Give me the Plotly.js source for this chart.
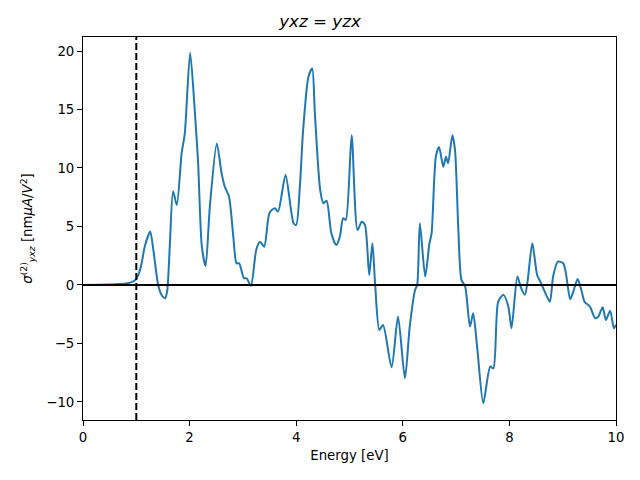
<!DOCTYPE html>
<html>
<head>
<meta charset="utf-8">
<script src="https://cdn.plot.ly/plotly-3.0.1.min.js"></script>
<style>html,body{margin:0;padding:0;background:#fff;}#chart{width:640px;height:480px;}</style>
</head>
<body>
<div id="chart"></div>
<script>
const energy = [0, 0.3, 0.6, 0.8, 0.9, 0.99, 1.05, 1.10, 1.16, 1.26, 1.32, 1.41, 1.48, 1.54, 1.58, 1.63, 1.69, 1.76, 1.85, 1.91, 2.01, 2.10, 2.16, 2.23, 2.30, 2.38, 2.51, 2.60, 2.66, 2.74, 2.82, 2.88, 2.93, 3.02, 3.07, 3.15, 3.25, 3.32, 3.40, 3.50, 3.60, 3.66, 3.80, 3.95, 4.00, 4.07, 4.13, 4.23, 4.30, 4.35, 4.45, 4.51, 4.57, 4.66, 4.75, 4.82, 4.88, 4.93, 5.04, 5.15, 5.23, 5.29, 5.37, 5.43, 5.48, 5.56, 5.63, 5.79, 5.91, 6.04, 6.13, 6.23, 6.27, 6.32, 6.42, 6.50, 6.54, 6.62, 6.68, 6.76, 6.81, 6.85, 6.93, 6.98, 7.04, 7.10, 7.17, 7.26, 7.32, 7.40, 7.51, 7.64, 7.70, 7.79, 7.89, 7.98, 8.04, 8.15, 8.22, 8.29, 8.34, 8.43, 8.52, 8.58, 8.69, 8.76, 8.82, 8.91, 9.01, 9.06, 9.14, 9.20, 9.28, 9.35, 9.41, 9.51, 9.61, 9.67, 9.75, 9.81, 9.89, 9.96, 10.0];
const sigma = [0, 0.02, 0.06, 0.12, 0.22, 0.45, 1.0, 1.85, 3.3, 4.56, 3.0, 0.0, -0.9, -1.14, -0.5, 3.5, 8.0, 6.84, 11.25, 12.96, 19.86, 14.7, 10.4, 3.27, 1.62, 6.7, 12.1, 9.55, 8.4, 7.55, 4.13, 1.85, 1.85, 0.57, 0.57, -0.08, 3.0, 3.7, 3.27, 6.18, 6.55, 6.27, 9.4, 5.27, 5.13, 8.5, 13.25, 17.8, 18.5, 14.7, 8.1, 6.98, 7.2, 4.4, 3.42, 4.13, 5.7, 5.56, 12.8, 4.7, 5.4, 5.13, 0.85, 3.56, 0.14, -3.85, -3.42, -7.04, -2.7, -7.98, -3.56, -0.43, 0.0, 5.27, 0.71, 3.56, 4.4, 10.97, 11.8, 10.1, 10.97, 10.4, 12.8, 11.5, 4.98, 0.43, -0.14, -3.56, -2.42, -5.56, -10.1, -6.98, -7.13, -1.43, -0.85, -1.85, -3.7, 0.71, -0.28, -0.85, 0.28, 3.56, 0.85, 0.28, -0.85, -1.43, 0.71, 1.99, 1.85, 1.0, -1.22, -0.57, 0.51, -0.43, -1.43, -1.85, -2.85, -2.7, -1.9, -3.0, -2.2, -3.7, -3.4];
const gapEnergy = 1.0;
const xTicks = [0, 2, 4, 6, 8, 10];
const yTicks = [-10, -5, 0, 5, 10, 15, 20];

const font = {family: 'DejaVu Sans', size: 13.3, color: '#000'};
const data = [{
  x: energy, y: sigma, type: 'scatter', mode: 'lines',
  line: {color: '#1f77b4', width: 2, shape: 'spline', smoothing: 0.7},
  hoverinfo: 'skip'
}];
const layout = {
  width: 640, height: 480,
  margin: {l: 83, r: 24, t: 37, b: 60},
  paper_bgcolor: '#fff', plot_bgcolor: '#fff',
  showlegend: false,
  font: font,
  title: {text: '<i>yxz</i> = <i>yzx</i>', font: {family: 'DejaVu Sans', size: 16.7, color: '#000'}, x: 0.5, xanchor: 'center', y: 0.955, yanchor: 'middle'},
  xaxis: {
    range: [0, 10], tickvals: xTicks, ticktext: xTicks.map(String),
    showgrid: false, zeroline: false, showline: true, mirror: true, linecolor: '#000', linewidth: 1,
    ticks: 'outside', ticklen: 5, tickwidth: 1, tickcolor: '#000', tickfont: font,
    title: {text: 'Energy [eV]', font: font, standoff: 6}
  },
  yaxis: {
    range: [-11.55, 21.2], tickvals: yTicks, ticktext: yTicks.map(v => v < 0 ? '\u2212' + Math.abs(v) : String(v)),
    showgrid: false, zeroline: false, showline: true, mirror: true, linecolor: '#000', linewidth: 1,
    ticks: 'outside', ticklen: 5, tickwidth: 1, tickcolor: '#000', tickfont: font,
    title: {text: '<i>σ</i><sup>(2)</sup><sub><i>yxz</i></sub> [nm<i>μA</i>/<i>V</i><sup>2</sup>]', font: font, standoff: 10}
  },
  shapes: [
    {type: 'line', xref: 'paper', yref: 'y', x0: 0, x1: 1, y0: 0, y1: 0, line: {color: '#000', width: 2}},
    {type: 'line', xref: 'x', yref: 'paper', x0: gapEnergy, x1: gapEnergy, y0: 0, y1: 1, line: {color: '#000', width: 2, dash: '7px,3px'}}
  ]
};
Plotly.newPlot('chart', data, layout, {displayModeBar: false, staticPlot: true});
</script>
</body>
</html>
